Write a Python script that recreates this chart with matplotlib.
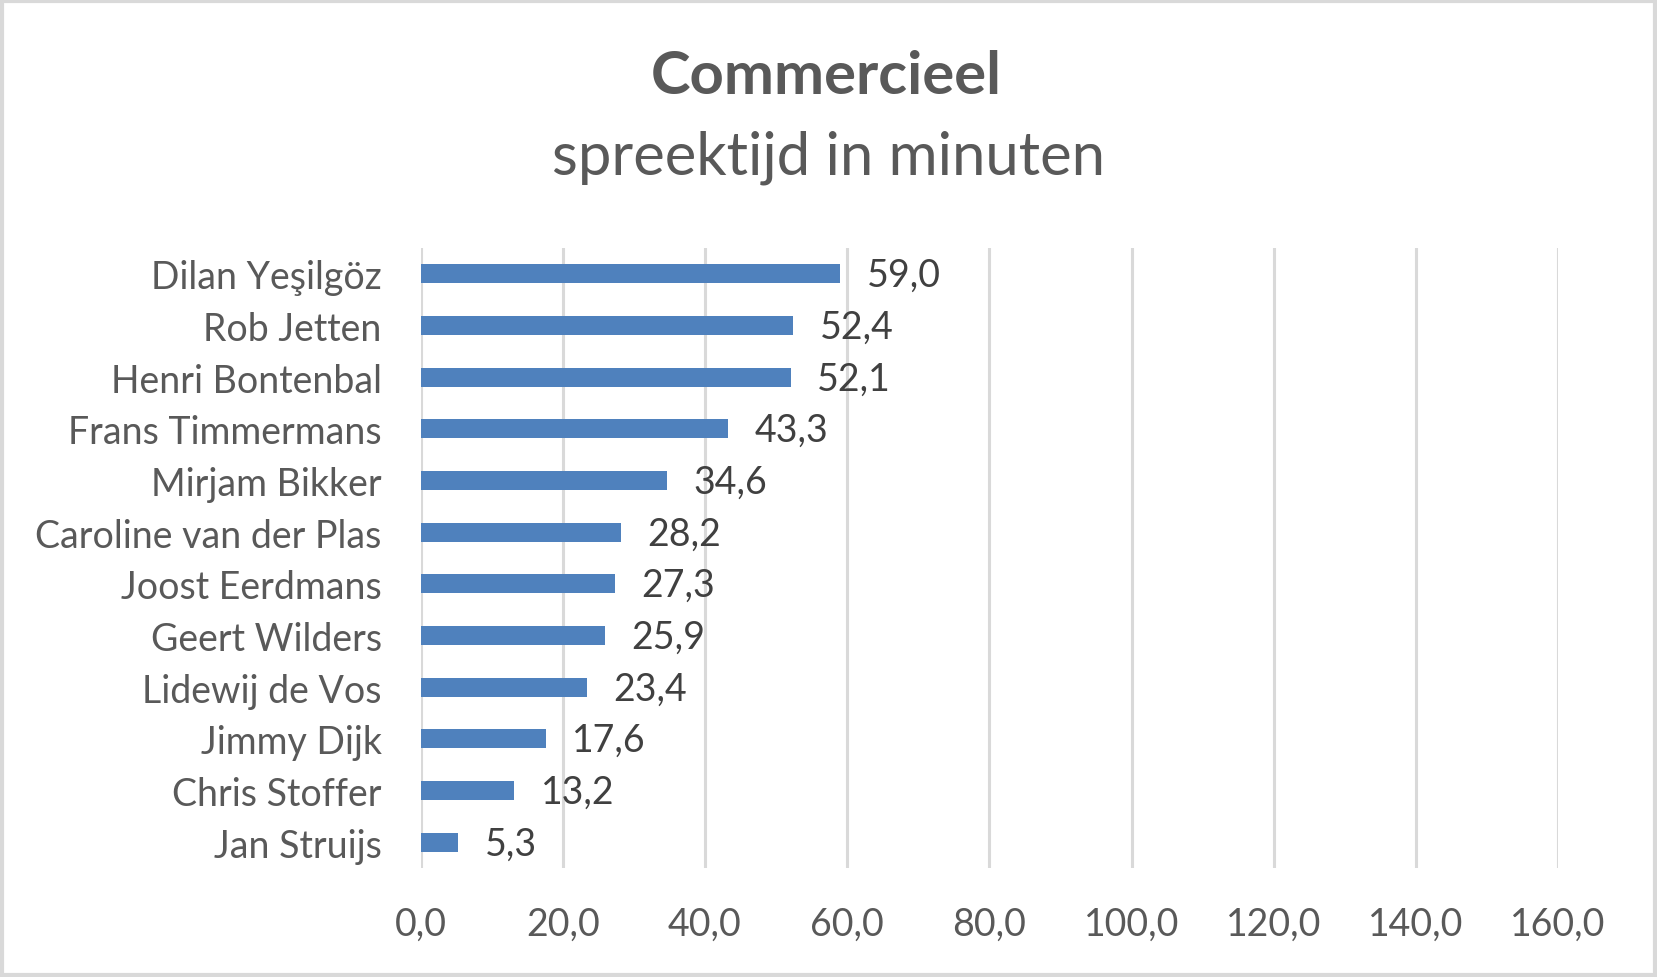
import matplotlib
matplotlib.use("Agg")
import matplotlib.pyplot as plt
from matplotlib.patches import Rectangle

# data, top to bottom as in the chart
names = [
    "Dilan Yeşilgöz",
    "Rob Jetten",
    "Henri Bontenbal",
    "Frans Timmermans",
    "Mirjam Bikker",
    "Caroline van der Plas",
    "Joost Eerdmans",
    "Geert Wilders",
    "Lidewij de Vos",
    "Jimmy Dijk",
    "Chris Stoffer",
    "Jan Struijs",
]
minutes = [59.0, 52.4, 52.1, 43.3, 34.6, 28.2, 27.3, 25.9, 23.4, 17.6, 13.2, 5.3]
x_ticks = [0, 20, 40, 60, 80, 100, 120, 140, 160]

plt.rcParams["font.family"] = ["Lato", "DejaVu Sans"]

grey_text = "#595959"
label_text = "#404040"
bar_colour = "#4F81BD"
grid_colour = "#D9D9D9"

fig = plt.figure(figsize=(16.58, 9.78), dpi=100)
ax = fig.add_axes([0.2537, 0.1115, 0.686, 0.634])

pos = list(range(len(names)))
ax.barh(pos, minutes, height=0.37, color=bar_colour, zorder=3)
ax.set_ylim(len(names) - 0.5, -0.5)
ax.set_xlim(0, 160)

ax.set_yticks(pos)
ax.set_yticklabels(names)
ax.set_xticks(x_ticks)
ax.set_xticklabels([f"{t:.1f}".replace(".", ",") for t in x_ticks])

ax.tick_params(axis="y", length=0, pad=28, labelsize=27, labelcolor=grey_text)
ax.tick_params(axis="x", length=0, pad=27, labelsize=27, labelcolor=grey_text)

for s in ax.spines.values():
    s.set_visible(False)
ax.grid(axis="x", color=grid_colour, linewidth=2.2, zorder=0)
ax.grid(axis="y", visible=False)

for p, v in zip(pos, minutes):
    ax.annotate(f"{v:.1f}".replace(".", ","), (v, p), xytext=(19, -1),
                textcoords="offset points", va="center", ha="left",
                fontsize=27, color=label_text)

fig.text(0.4985, 0.921, "Commercieel", ha="center", va="center",
         fontsize=43, fontweight="bold", color=grey_text)
fig.text(0.4995, 0.839, "spreektijd in minuten", ha="center", va="center",
         fontsize=43, color=grey_text)

fig.patches.append(Rectangle((0.001, 0.002), 0.997, 0.996, transform=fig.transFigure,
                             fill=False, edgecolor=grid_colour, linewidth=3))

fig.savefig("out.png", dpi=100)
